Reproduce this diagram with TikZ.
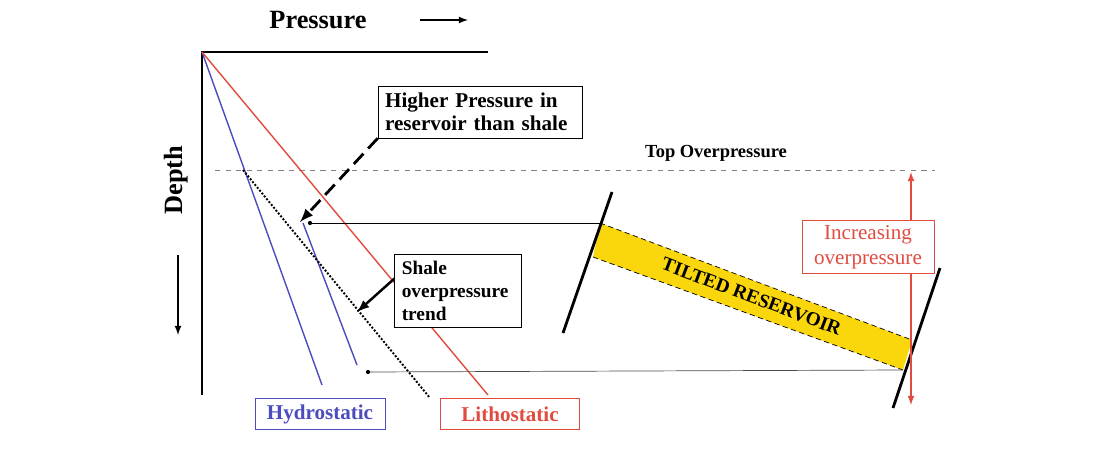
\documentclass[tikz,border=0pt]{standalone}
\usepackage{fontspec}
\setmainfont{Liberation Serif}
\usetikzlibrary{calc}
\definecolor{resyellow}{rgb}{0.98,0.84,0.05}
\definecolor{litred}{rgb}{0.88,0.3,0.25}
\definecolor{hydblue}{rgb}{0.3,0.3,0.75}

\begin{document}
\begin{tikzpicture}[>=latex, x=0.02cm, y=-0.02cm, font=\bfseries\fontsize{12}{13}\selectfont,
  labelbox/.style={draw, thin, align=left, inner sep=3pt, fill=white},
  faultline/.style={line width=1.6pt}]

% --- frame ---------------------------------------------------------
\useasboundingbox (0,0) rectangle (1100,450);

% --- axes ------------------------------------------------------------
\coordinate (O) at (202,52);
\draw[line width=1.6pt] (488,52) -- (O) -- (202,395);
\node (pres) at (318,20) {\fontsize{15}{17}\selectfont Pressure};
\draw[->, thick] (420,20) -- (468,20);
\node[rotate=90] (depth) at (176,180) {\fontsize{15}{17}\selectfont Depth};
\draw[->, thick] (178,255) -- (178,335);

% --- top overpressure ------------------------------------------------
\draw[dashed, gray, thin] (215,170) -- (935,170);
\node (topov) at (716,153) {\fontsize{10.5}{12}\selectfont Top Overpressure};

% --- gradients -------------------------------------------------------
\draw[hydblue, thick] (O) -- (322,385) coordinate (hydend);
\draw[hydblue, thick] (303,223) -- (357,365);
\draw[litred, thick] (O) -- (488,395) coordinate (litend);
\draw[densely dotted, line width=1.1pt] (243,170) -- (430,398);

\node[labelbox, draw=hydblue, text=hydblue, minimum width=74pt, minimum height=18pt] (hyd) at (320,414) {Hydrostatic};
\node[labelbox, draw=litred, text=litred, minimum width=79pt, minimum height=18pt] (lit) at (510,414) {Lithostatic};

% --- reservoir -------------------------------------------------------
\coordinate (rtl) at (600,223);
\coordinate (rbl) at (593,257);
\coordinate (rtr) at (912,340);
\coordinate (rbr) at (903,370);
\fill[resyellow] (rtl) -- (rtr) -- (rbr) -- (rbl) -- cycle;
\draw[densely dashed] (rtl) -- (rtr) (rbl) -- (rbr);
\node[rotate=-20.6, font=\bfseries\fontsize{11}{12}\selectfont] (res) at ($(rtl)!0.5!(rbr)$) {TILTED RESERVOIR};

\draw[faultline] (563,333) -- (612,192);
\draw[faultline] (893,408) -- (940,268);

% --- pressure transfer lines -----------------------------------------
\coordinate (ptop) at (310,223);
\coordinate (pbot) at (368,372);
\draw[thin] (rtl) -- (ptop);
\fill (ptop) circle (1.2pt);
\draw[thin, gray!60!black] (rbr) -- (pbot);
\fill (pbot) circle (1.2pt);

% --- increasing overpressure -----------------------------------------
\draw[<->, litred, thick] (911,172) -- (911,405);
\node[labelbox, draw=litred, text=litred, font=\fontsize{12}{14}\selectfont, align=center, minimum width=75pt] (incr) at (868,247) {Increasing\\overpressure};

% --- callouts ---------------------------------------------------------
\node[labelbox, text width=108pt, inner sep=4pt] (higher) at (480,112) {Higher Pressure in\\reservoir than shale};
\draw[->, line width=1.6pt, dash pattern=on 8pt off 4pt] (higher.south west) -- (300,222);
\node[labelbox, text width=64pt, inner sep=4pt, font=\bfseries\fontsize{11}{13}\selectfont] (shale) at (458,291) {Shale\\overpressure\\trend};
\draw[->, line width=1.4pt] ([yshift=-14pt]shale.north west) -- (357,312);

\end{tikzpicture}
\end{document}
